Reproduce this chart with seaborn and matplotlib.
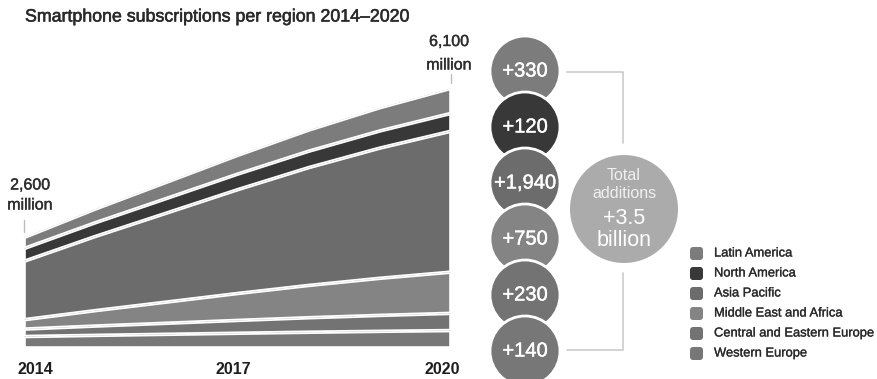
import matplotlib
matplotlib.use("Agg")
import matplotlib.pyplot as plt
import matplotlib.patheffects as pe
import seaborn as sns
import seaborn.objects as so
import pandas as pd
from matplotlib.patches import Circle, FancyBboxPatch

# ---------------- data ----------------
years = [2014, 2015, 2016, 2017, 2018, 2019, 2020]
western_europe = [270, 297, 322, 347, 371, 392, 410]
central_eastern_europe = [175, 219, 260, 302, 341, 375, 405]
middle_east_africa = [220, 363, 498, 633, 760, 873, 970]
asia_pacific = [1375, 1744, 2093, 2442, 2772, 3063, 3315]
north_america = [300, 323, 344, 366, 386, 404, 420]
latin_america = [260, 323, 382, 442, 498, 547, 590]

# stacking order bottom -> top
regions = ["Western Europe", "Central and Eastern Europe", "Middle East and Africa",
           "Asia Pacific", "North America", "Latin America"]
series = [western_europe, central_eastern_europe, middle_east_africa,
          asia_pacific, north_america, latin_america]
colors = {"Western Europe": "#777777", "Central and Eastern Europe": "#737373",
          "Middle East and Africa": "#848484", "Asia Pacific": "#6c6c6c",
          "North America": "#383838", "Latin America": "#7c7c7c"}

# additions (top -> bottom as in bubbles)
add_labels = ["+330", "+120", "+1,940", "+750", "+230", "+140"]
add_regions = ["Latin America", "North America", "Asia Pacific",
               "Middle East and Africa", "Central and Eastern Europe", "Western Europe"]
legend_labels = ["Latin America", "North America", "Asia Pacific",
                 "Middle East and Africa", "Central and Eastern Europe", "Western Europe"]
title = "Smartphone subscriptions per region 2014\u20132020"
start_label = ["2,600", "million"]
end_label = ["6,100", "million"]
total_text = ["Total", "additions", "+3.5", "billion"]

rows = []
for reg, vals in zip(regions, series):
    for y, v in zip(years, vals):
        rows.append({"year": y, "value": v, "region": reg})
df = pd.DataFrame(rows)

# ---------------- figure ----------------
sns.set_theme(style="white")
plt.rcParams["font.family"] = ["Liberation Sans", "DejaVu Sans"]
W, H = 877, 379
fig = plt.figure(figsize=(W / 100, H / 100), dpi=100)
fig.patch.set_facecolor("white")

# main area axes: x 24->451 px, baseline at y=348 px, top at y=60 px
x0, x1, yb, yt = 24, 451, 348, 60
ax = fig.add_axes([x0 / W, (H - yb) / H, (x1 - x0) / W, (yb - yt) / H])
ymax = (yb - yt) / 42.5 * 1000

(
    so.Plot(df, x="year", y="value", color="region")
    .add(so.Area(alpha=1, edgecolor="white", edgewidth=1.3), so.Stack(), legend=False)
    .scale(color=so.Nominal(colors, order=regions))
    .limit(x=(2014, 2020), y=(0, ymax))
    .on(ax)
    .plot()
)
ax.set_axis_off()


def bold(c, w=0.5):
    return [pe.withStroke(linewidth=w, foreground=c)]


# overlay axes in pixel coordinates
ov = fig.add_axes([0, 0, 1, 1], zorder=5)
ov.set_xlim(0, W)
ov.set_ylim(H, 0)
ov.set_axis_off()
ov.patch.set_alpha(0)

ov.text(25, 17, title, fontsize=12.8, color="#2a2a2a", ha="left", va="center",
        path_effects=bold("#2a2a2a", 0.4))

# start / end labels
tc = "#2e2e2e"
ov.text(30, 185, start_label[0], fontsize=11.5, color=tc, ha="center", va="center", path_effects=bold(tc, 0.3))
ov.text(30, 205, start_label[1], fontsize=11.5, color=tc, ha="center", va="center", path_effects=bold(tc, 0.3))
ov.plot([24, 24], [220, 232], color="#bdbdbd", lw=1)
ov.text(449, 41.5, end_label[0], fontsize=11.5, color=tc, ha="center", va="center", path_effects=bold(tc, 0.3))
ov.text(449, 65, end_label[1], fontsize=11.5, color=tc, ha="center", va="center", path_effects=bold(tc, 0.3))
ov.plot([451, 451], [74, 83], color="#bdbdbd", lw=1)

# year labels
ov.text(17, 370, "2014", fontsize=11.5, fontweight="bold", color="#1e1e1e", ha="left", va="center")
ov.text(233, 370, "2017", fontsize=11.5, fontweight="bold", color="#1e1e1e", ha="center", va="center")
ov.text(460, 370, "2020", fontsize=11.5, fontweight="bold", color="#1e1e1e", ha="right", va="center")

# bubbles
bub_x = 525
bub_y = [71, 127, 183, 239, 295, 351]
for i, (lab, reg, cy) in enumerate(zip(add_labels, add_regions, bub_y)):
    ov.add_patch(Circle((bub_x, cy), 35, facecolor=colors[reg], edgecolor="white",
                        lw=2, zorder=10 + i))
    ov.text(bub_x, cy, lab, fontsize=14.5, color="white", ha="center", va="center",
            zorder=20 + i, path_effects=bold("white", 0.3))

# bracket
bc = "#cccccc"
ov.plot([567, 623, 623], [72, 72, 143], color=bc, lw=1.2)
ov.plot([623, 623, 567], [273, 350, 350], color=bc, lw=1.2)

# total circle
ov.add_patch(Circle((624, 209), 54, facecolor="#ababab", edgecolor="none", zorder=8))
ov.text(624, 175, total_text[0], fontsize=11.5, color="#f0f0f0", ha="center", va="center", zorder=9)
ov.text(624, 193, total_text[1], fontsize=11.5, color="#f0f0f0", ha="center", va="center", zorder=9)
ov.text(624, 218, total_text[2], fontsize=15.5, color="white", ha="center", va="center", zorder=9)
ov.text(624, 240, total_text[3], fontsize=15.5, color="white", ha="center", va="center", zorder=9)

# legend
for i, lab in enumerate(legend_labels):
    cy = 253.5 + i * 20
    ov.add_patch(FancyBboxPatch((690, cy - 6.5), 13, 13, boxstyle="round,pad=0,rounding_size=3",
                                facecolor=colors[lab], edgecolor="none"))
    ov.text(714, cy, lab, fontsize=9.3, color="#2a2a2a", ha="left", va="center",
            path_effects=bold("#2a2a2a", 0.2))

fig.savefig("out.png", dpi=100, facecolor="white")
